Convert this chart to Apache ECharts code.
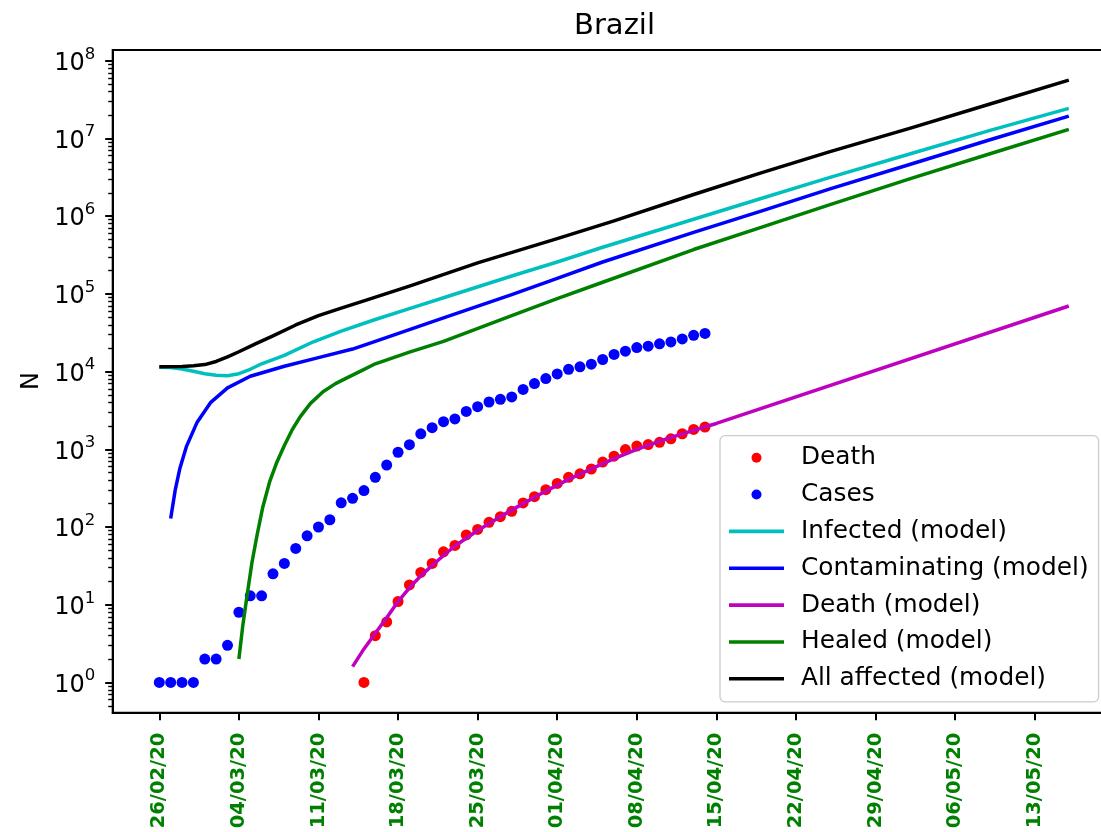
<!DOCTYPE html>
<html>
<head>
<meta charset="utf-8">
<script src="https://cdn.jsdelivr.net/npm/echarts@6/dist/echarts.min.js"></script>
<style>
  html, body { margin: 0; padding: 0; background: #ffffff; }
  #chart { width: 1101px; height: 832px; }
</style>
</head>
<body>
<div id="chart"></div>
<script>
// ---------------- data ----------------
const chartTitle = 'Brazil';
const yAxisTitle = 'N';

// x values are days since 26/02/20
const xTickDays = [0, 7, 14, 21, 28, 35, 42, 49, 56, 63, 70, 77];
const xTickLabels = ['26/02/20', '04/03/20', '11/03/20', '18/03/20', '25/03/20', '01/04/20',
                     '08/04/20', '15/04/20', '22/04/20', '29/04/20', '06/05/20', '13/05/20'];

const yTickValues = [1, 10, 100, 1000, 10000, 100000, 1000000, 10000000, 100000000];
const yTickExponents = ['0', '1', '2', '3', '4', '5', '6', '7', '8'];

// observed deaths (red dots)
const deathDays = [18, 19, 20, 21, 22, 23, 24, 25, 26, 27, 28, 29, 30, 31, 32, 33, 34, 35, 36, 37,
                   38, 39, 40, 41, 42, 43, 44, 45, 46, 47, 48];
const deathValues = [1, 4, 6, 11, 18, 26, 34, 48, 58, 79, 93, 115, 136, 159, 204, 246, 302, 364, 436, 484,
                     558, 684, 816, 993, 1100, 1150, 1230, 1365, 1585, 1800, 1933];

// observed cases (blue dots)
const caseDays = [0, 1, 2, 3, 4, 5, 6, 7, 8, 9, 10, 11, 12, 13, 14, 15, 16, 17, 18, 19, 20, 21, 22, 23, 24,
                  25, 26, 27, 28, 29, 30, 31, 32, 33, 34, 35, 36, 37, 38, 39, 40, 41, 42, 43, 44, 45, 46, 47, 48];
const caseValues = [1, 1, 1, 1, 2, 2, 3, 8, 13, 13, 25, 34, 53, 77, 100, 124, 205, 234, 294, 436, 627, 916,
                    1146, 1580, 1900, 2265, 2460, 3075, 3535, 4060, 4400, 4715, 5900, 7000, 8120, 9340, 10700,
                    11500, 12440, 14300, 16600, 18300, 20400, 21200, 22800, 24100, 26300, 29300, 31000];

// model curves
const infectedDays = [0, 1, 2, 3, 4, 5, 6, 7, 8, 9, 11, 13.5, 16, 19, 22, 25, 31, 35, 39, 47, 53, 59, 66, 73, 80];
const infectedValues = [11400, 11300, 10800, 10100, 9400, 8950, 8850, 9400, 10700, 12600, 16200, 24000, 33100,
                        46800, 64600, 89100, 170000, 257000, 398000, 912000, 1700000, 3160000, 6310000,
                        12600000, 24400000];

const contaminatingDays = [1, 1.4, 1.8, 2.4, 3.3, 4.5, 6, 8, 11, 14, 17, 19, 25, 31, 35, 39, 47, 53, 59, 66, 73, 80];
const contaminatingValues = [129, 300, 560, 1100, 2190, 3980, 6170, 8710, 11700, 15100, 19500, 24500, 49000,
                             97700, 158000, 257000, 617000, 1170000, 2240000, 4620000, 9550000, 19400000];

const deathModelDays = [17, 18, 19, 20, 21, 22, 23, 24, 25, 26, 28, 30, 32, 34, 36, 38, 40, 42, 44, 46, 49, 80];
const deathModelValues = [1.6, 2.7, 4.3, 6.8, 11, 16.5, 23.5, 32, 43, 57, 90, 136, 200, 290, 410, 560, 760,
                          1000, 1270, 1580, 2150, 69800];

const healedDays = [7, 7.35, 7.7, 8.15, 8.6, 9.1, 9.7, 10.3, 11, 11.7, 12.4, 13.3, 14.4, 15.5, 16.5, 17.8, 19,
                    22, 25, 31, 35, 39, 47, 53, 59, 66, 73, 80];
const healedValues = [2.0, 5.5, 12.6, 35, 79, 180, 380, 660, 1120, 1800, 2630, 3900, 5500, 7000, 8300, 10300,
                      12600, 17800, 24500, 52500, 87100, 141000, 372000, 724000, 1410000, 3020000, 6310000, 13100000];

const allAffectedDays = [0, 2, 3, 4, 5, 6, 7, 8.5, 10, 12, 14, 16, 18, 22, 28, 35, 40, 47, 53, 59, 66, 73, 80];
const allAffectedValues = [11500, 11600, 11900, 12300, 13500, 15500, 18000, 22900, 28800, 39800, 52500, 65500,
                           81300, 126000, 251000, 513000, 871000, 1900000, 3630000, 6760000, 13500000, 27500000,
                           56200000];

// ---------------- chart ----------------
const FONT = 'DejaVu Sans';
function zip(xs, ys) { return xs.map((x, i) => [x, ys[i]]); }

const minorTicks = [];
for (let k = -1; k <= 8; k++) {
  for (let m = 2; m <= 9; m++) {
    const v = m * Math.pow(10, k);
    if (v >= 0.408 && v <= 1.374e8) minorTicks.push(v);
  }
}

const lineIcon = 'path://M0,0L55,0L55,3.6L0,3.6Z';

function lineSeries(name, days, values, color) {
  return {
    name: name, type: 'line', data: zip(days, values),
    xAxisIndex: 0, yAxisIndex: 0,
    showSymbol: false, symbol: 'none', smooth: false,
    lineStyle: { color: color, width: 3.5, join: 'round', cap: 'butt' },
    itemStyle: { color: color },
    emphasis: { disabled: true }, animation: false
  };
}

const chart = echarts.init(document.getElementById('chart'), null, { renderer: 'canvas' });
chart.setOption({
  animation: false,
  backgroundColor: '#ffffff',
  textStyle: { fontFamily: FONT },
  grid: {
    left: 112.7, top: 50, right: -11, bottom: 119.3,
    show: true, borderColor: '#000000', borderWidth: 2, backgroundColor: 'transparent',
    outerBoundsMode: 'none', containLabel: false
  },
  graphic: [
    { type: 'text', x: 614.5, y: 11.5,
      style: { text: chartTitle, font: '29px "DejaVu Sans"', fill: '#000000', textAlign: 'center', textVerticalAlign: 'top' } },
    { type: 'text', x: 32, y: 381, rotation: Math.PI / 2,
      style: { text: yAxisTitle, font: '24px "DejaVu Sans"', fill: '#000000', textAlign: 'center', textVerticalAlign: 'middle' } }
  ],
  legend: {
    orient: 'vertical', left: 720, top: 435.7,
    padding: [8, 10, 9, 9],
    itemWidth: 55, itemHeight: 10, itemGap: 8.85,
    backgroundColor: 'rgba(255,255,255,0.8)', borderColor: '#cccccc', borderWidth: 1.3, borderRadius: 5,
    textStyle: { fontFamily: FONT, fontSize: 24.8, color: '#000000', lineHeight: 28, padding: [0, 0, 0, 12] },
    selectedMode: false,
    data: [
      { name: 'Death', icon: 'circle' },
      { name: 'Cases', icon: 'circle' },
      { name: 'Infected (model)', icon: lineIcon },
      { name: 'Contaminating (model)', icon: lineIcon },
      { name: 'Death (model)', icon: lineIcon },
      { name: 'Healed (model)', icon: lineIcon },
      { name: 'All affected (model)', icon: lineIcon }
    ]
  },
  xAxis: {
    type: 'value', min: -4.1, max: 83.8,
    axisLine: { show: true, onZero: false, lineStyle: { color: '#000000', width: 2 } },
    axisTick: { show: true, length: 7.5, lineStyle: { color: '#000000', width: 2 }, customValues: xTickDays },
    axisLabel: {
      customValues: xTickDays, rotate: 90, margin: 20,
      color: '#008000', fontWeight: 'bold', fontSize: 19.5, fontFamily: FONT,
      formatter: function (v) {
        const i = xTickDays.indexOf(Math.round(v));
        return i >= 0 ? xTickLabels[i] : '';
      }
    },
    splitLine: { show: false }
  },
  yAxis: [
    {
      type: 'log', logBase: 10, min: 0.408, max: 1.374e8, position: 'left', offset: 0,
      axisLine: { show: true, onZero: false, lineStyle: { color: '#000000', width: 2 } },
      axisTick: { show: true, length: 7.5, lineStyle: { color: '#000000', width: 2 }, customValues: yTickValues },
      axisLabel: {
        customValues: yTickValues, margin: 17.5, color: '#000000',
        formatter: function (v) {
          let best = 0, bd = 1e9;
          yTickValues.forEach((t, i) => { const d = Math.abs(Math.log10(t) - Math.log10(v)); if (d < bd) { bd = d; best = i; } });
          return '{b|10}{s|' + yTickExponents[best] + '}';
        },
        rich: {
          b: { fontSize: 24, fontFamily: FONT, color: '#000000', lineHeight: 30, verticalAlign: 'bottom' },
          s: { fontSize: 16.5, fontFamily: FONT, color: '#000000', lineHeight: 17, verticalAlign: 'top' }
        }
      },
      splitLine: { show: false }
    },
    {
      type: 'log', logBase: 10, min: 0.408, max: 1.374e8, position: 'left', offset: 0,
      axisLine: { show: false, onZero: false },
      axisTick: { show: true, length: 4.5, lineStyle: { color: '#000000', width: 1.4 }, customValues: minorTicks },
      axisLabel: { show: false },
      splitLine: { show: false }
    }
  ],
  series: [
    { name: 'Death', type: 'scatter', data: zip(deathDays, deathValues), symbol: 'circle', symbolSize: 11,
      itemStyle: { color: '#ff0000', opacity: 1 }, emphasis: { disabled: true } },
    { name: 'Cases', type: 'scatter', data: zip(caseDays, caseValues), symbol: 'circle', symbolSize: 11,
      itemStyle: { color: '#0000ff', opacity: 1 }, emphasis: { disabled: true } },
    lineSeries('Infected (model)', infectedDays, infectedValues, '#00bfbf'),
    lineSeries('Contaminating (model)', contaminatingDays, contaminatingValues, '#0000ff'),
    lineSeries('Death (model)', deathModelDays, deathModelValues, '#bf00bf'),
    lineSeries('Healed (model)', healedDays, healedValues, '#008000'),
    lineSeries('All affected (model)', allAffectedDays, allAffectedValues, '#000000')
  ]
});
</script>
</body>
</html>
